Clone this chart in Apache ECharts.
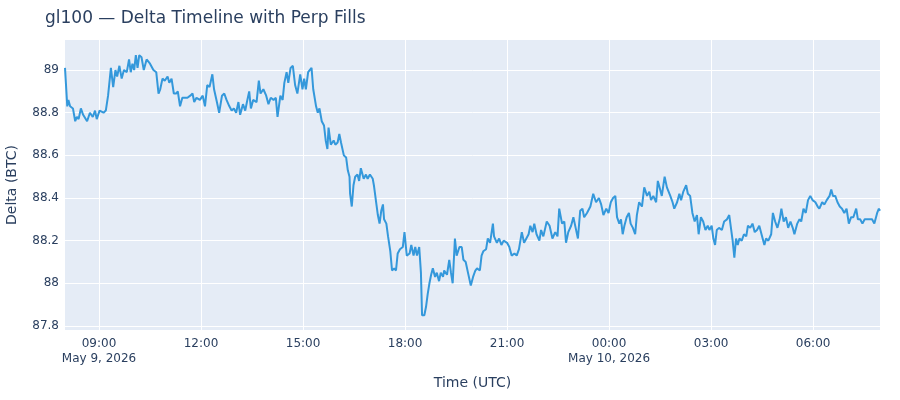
<!DOCTYPE html>
<html>
	<head>
		<meta charset="utf-8">
		<title>gl100 Delta Timeline</title>
		<script src="https://cdn.jsdelivr.net/npm/echarts@6/dist/echarts.min.js"></script>
		<style>
			html, body { margin: 0; padding: 0; background: #fff; }
			#main { width: 900px; height: 400px; }
		</style>
	</head>
	<body>
		<div id="main"></div>
		<script>
			// minutes after 2026-05-09 08:00 UTC
			var minutes = [
				0,4,6,9,14,18,21,24,28,32,39,44,49,53,56,61,68,72,76,81,85,89,92,96,100,104,109,113,116,119,
				122,125,128,131,135,139,144,150,156,161,165,168,172,176,181,184,188,192,196,199,203,207,212,216,221,225,228,232,238,243,
				247,251,255,260,263,268,272,277,281,285,290,294,298,302,306,309,314,318,321,325,328,332,338,342,345,350,355,359,363,368,
				372,375,380,384,387,391,394,398,402,406,410,415,419,422,425,429,435,438,443,446,449,453,457,460,463,465,469,474,477,481,
				484,487,489,492,496,499,502,
				503,506,509,512,516,519,522,527,531,534,538,543,545,549,552,555,558,561,563,567,570,574,577,581,584,587,591,596,599,603,
				608,611,615,618,621,625,628,630,634,637,640,643,646,649,653,656,660,663,667,669,674,678,681,684,688,691,696,700,703,707,
				711,716,720,724,727,732,735,738,743,746,750,755,757,762,766,770,774,780,784,788,793,797,801,806,810,814,818,821,825,828,
				832,837,840,844,850,855,860,865,869,872,877,881,884,888,893,897,901,905,909,913,916,921,927,932,937,942,
				946,950,955,959,963,967,971,974,978,981,984,987,991,995,998,1002,1006,1009,1013,1018,1022,1027,1031,1034,1038,1043,1046,1049,1053,1058,
				1062,1065,1068,1072,1075,1080,1084,1087,1091,1096,1099,1103,1107,1111,1115,1118,1122,1126,1130,1134,1137,1141,1144,1147,1150,1154,1159,1163,1168,1172,
				1175,1178,1181,1184,1187,1190,1194,1198,1202,1205,1209,1213,1217,1221,1225,1230,1234,1237,1241,1246,1249,1253,1257,1261,1264,1268,1272,1276,1280,1284,
				1287,1292,1296,1299,1303,1307,1311,1315,1319,1324,1328,1331,1336,1340,1344,1349,1352,1355,1359,1363,1367,1371,1375,1379,1383,1387,1391,1396,1399,1403,
				1407,1411,1415,1419,1424,1428,1433,1436,1438
			];
			var delta = [
				89.01,88.83,88.86,88.83,88.82,88.76,88.78,88.77,88.82,88.79,88.76,88.80,88.78,88.81,88.77,88.81,88.80,88.81,88.88,89.01,
				88.92,89.00,88.97,89.02,88.96,89.00,88.99,89.05,88.99,89.03,89.00,89.07,89.01,89.07,89.06,89.00,89.05,89.03,89.00,88.99,
				88.89,88.91,88.96,88.95,88.97,88.94,88.96,88.89,88.89,88.90,88.83,88.87,88.87,88.87,88.88,88.89,88.85,88.87,88.86,88.88,
				88.83,88.93,88.92,88.98,88.91,88.85,88.80,88.88,88.89,88.86,88.83,88.81,88.82,88.80,88.85,88.79,88.84,88.81,88.85,88.90,
				88.82,88.86,88.85,88.95,88.89,88.91,88.88,88.84,88.87,88.86,88.87,88.78,88.88,88.86,88.94,88.99,88.94,89.01,89.02,88.93,
				88.89,88.98,88.91,88.96,88.91,88.99,89.01,88.91,88.83,88.80,88.82,88.76,88.74,88.67,88.63,88.73,88.65,88.67,88.65,88.66,
				88.70,88.66,88.66,88.60,88.59,88.53,88.50,
				88.42,88.36,88.46,88.50,88.51,88.48,88.54,88.49,88.51,88.49,88.51,88.49,88.46,88.38,88.32,88.28,88.34,88.37,88.30,88.28,
				88.22,88.15,88.06,88.07,88.06,88.14,88.16,88.17,88.24,88.13,88.14,88.18,88.13,88.17,88.13,88.17,88.05,87.85,87.85,87.89,
				87.95,88.00,88.04,88.07,88.03,88.05,88.01,88.05,88.03,88.06,88.04,88.11,88.05,88.00,88.21,88.13,88.17,88.17,88.11,88.10,
				88.05,87.99,88.03,88.06,88.07,88.06,88.13,88.15,88.16,88.21,88.19,88.28,88.22,88.19,88.21,88.18,88.20,88.19,88.17,88.13,
				88.14,88.13,88.16,88.24,88.19,88.21,88.23,88.27,88.24,88.28,88.23,88.20,88.25,88.22,88.29,88.27,88.21,88.24,88.22,88.35,
				88.28,88.29,88.19,88.24,88.27,88.31,88.26,88.21,88.34,88.35,88.31,88.33,88.36,88.42,88.38,88.40,
				88.37,88.32,88.35,88.33,88.38,88.40,88.41,88.31,88.28,88.30,88.23,88.27,88.31,88.33,88.28,88.26,88.23,88.32,88.38,88.36,
				88.45,88.41,88.43,88.39,88.41,88.38,88.48,88.45,88.41,88.50,88.45,88.45,88.41,88.38,88.35,88.38,88.42,88.39,88.43,88.46,
				88.42,88.41,88.33,88.29,88.32,88.23,88.31,88.29,88.25,88.27,88.25,88.27,88.21,88.18,88.25,88.26,88.25,88.29,88.30,88.32,
				88.26,88.20,88.12,88.21,88.18,88.21,88.20,88.23,88.22,88.27,88.26,88.28,88.24,88.25,88.27,88.22,88.18,88.21,88.20,88.23,
				88.33,88.29,88.26,88.30,88.35,88.29,88.31,88.26,88.29,88.26,88.23,88.28,88.30,88.29,88.35,88.33,88.39,88.41,88.39,88.38,
				88.36,88.35,88.38,88.37,88.39,88.41,88.44,88.41,88.41,88.38,88.36,88.35,88.33,88.35,88.28,88.31,88.31,88.35,88.30,88.30,
				88.28,88.30,88.30,88.30,88.30,88.28,88.33,88.35,88.34
			];
			// tick labels (minutes after 08:00 May 9)
			var xTicks = [60, 240, 420, 600, 780, 960, 1140, 1320];
			var yTicks = [87.8, 88, 88.2, 88.4, 88.6, 88.8, 89];

			var start = Date.UTC(2026, 4, 9, 8, 0);
			var months = ['Jan','Feb','Mar','Apr','May','Jun','Jul','Aug','Sep','Oct','Nov','Dec'];

			var points = [];
			for (var i = 0; i < minutes.length; i++) {
				points.push([minutes[i], delta[i]]);
			}

			function pad(n) { return (n < 10 ? '0' : '') + n; }
			function timeLabel(v) {
				var d = new Date(start + v * 60000);
				var s = pad(d.getUTCHours()) + ':' + pad(d.getUTCMinutes());
				// first tick and midnight get the date underneath
				if (v === xTicks[0] || d.getUTCHours() === 0) {
					s += '\n' + months[d.getUTCMonth()] + ' ' + d.getUTCDate() + ', ' + d.getUTCFullYear();
				}
				return s;
			}

			var textColor = '#2a3f5f';
			var font = 'DejaVu Sans';
			var chart = echarts.init(document.getElementById('main'));
			var option = {
				animation: false,
				backgroundColor: '#ffffff',
				textStyle: { fontFamily: font },
				title: {
					text: 'gl100 — Delta Timeline with Perp Fills',
					left: 40,
					top: 5,
					textStyle: { color: textColor, fontSize: 17, fontWeight: 'normal', fontFamily: font }
				},
				grid: {
					left: 65,
					right: 20,
					top: 40,
					bottom: 70,
					outerBoundsMode: 'none',
					containLabel: false,
					show: true,
					backgroundColor: '#E5ECF6',
					borderWidth: 0
				},
				xAxis: {
					type: 'value',
					min: 0,
					max: minutes[minutes.length - 1],
					name: 'Time (UTC)',
					nameLocation: 'middle',
					nameGap: 46,
					nameTextStyle: { color: textColor, fontSize: 14, fontFamily: font },
					axisLine: { show: false },
					axisTick: { show: false, customValues: xTicks },
					axisLabel: {
						customValues: xTicks,
						formatter: timeLabel,
						color: textColor,
						fontSize: 12,
						lineHeight: 15,
						margin: 6,
						fontFamily: font
					},
					splitLine: { show: true, lineStyle: { color: '#ffffff', width: 1 } }
				},
				yAxis: {
					type: 'value',
					min: 87.781,
					max: 89.141,
					name: 'Delta (BTC)',
					nameLocation: 'middle',
					nameGap: 46,
					nameTextStyle: { color: textColor, fontSize: 14, fontFamily: font },
					axisLine: { show: false },
					axisTick: { show: false, customValues: yTicks },
					axisLabel: {
						customValues: yTicks,
						color: textColor,
						fontSize: 12,
						margin: 6,
						fontFamily: font
					},
					splitLine: { show: true, lineStyle: { color: '#ffffff', width: 1 } }
				},
				series: [{
					type: 'line',
					data: points,
					showSymbol: false,
					symbol: 'none',
					lineStyle: { color: '#3498db', width: 2 },
					itemStyle: { color: '#3498db' }
				}]
			};
			chart.setOption(option);
		</script>
	</body>
</html>
